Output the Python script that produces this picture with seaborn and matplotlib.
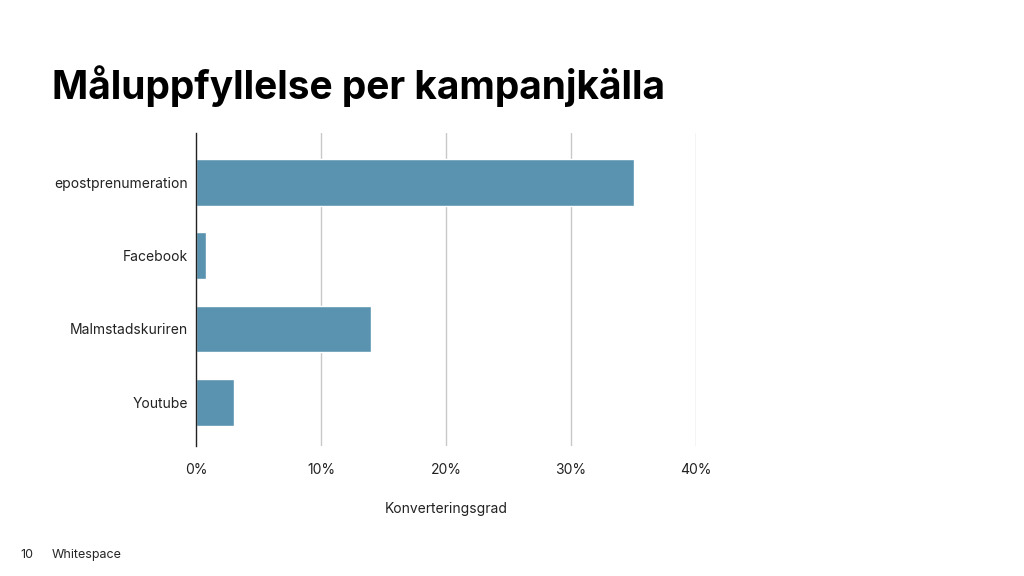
import matplotlib
matplotlib.use("Agg")
import matplotlib.pyplot as plt
import seaborn as sns
import pandas as pd

categories = ["epostprenumeration", "Facebook", "Malmstadskuriren", "Youtube"]
values = [35.0, 0.8, 14.0, 3.0]
xticks = [0, 10, 20, 30, 40]
xticklabels = ["0%", "10%", "20%", "30%", "40%"]

sns.set_theme(style="white")
plt.rcParams['font.family'] = ['Inter', 'DejaVu Sans']

fig = plt.figure(figsize=(10.24, 5.76), dpi=100)
ax = fig.add_axes([196/1024, 1-446/576, 500/1024, 313/576])
df = pd.DataFrame({"cat": categories, "val": values})
sns.barplot(data=df, x="val", y="cat", color="#5A93B0", saturation=1, width=0.64, ax=ax)
ax.set_xlim(0, 40)
ax.set_ylim(3.6, -0.68)
ax.set_xticks(xticks)
ax.set_xticklabels(xticklabels, fontsize=10, color="#222")
ax.tick_params(axis='y', labelsize=10, colors="#222", length=0, pad=6)
ax.tick_params(axis='x', length=0, pad=12)
for x in xticks[1:]:
    ax.axvline(x, color="#c8c8c8", lw=1, zorder=0)
ax.set_axisbelow(True)
for s in ["top", "right", "bottom"]:
    ax.spines[s].set_visible(False)
ax.spines["left"].set_color("#222")
ax.spines["left"].set_linewidth(1)
ax.set_ylabel("")
ax.set_xlabel("Konverteringsgrad", fontsize=10, color="#222", labelpad=18)

fig.text(52/1024, 1-86/576, "Måluppfyllelse per kampanjkälla", fontsize=28, fontweight="bold", va="center", ha="left", color="black")
fig.text(20/1024, 1-555/576, "10", fontsize=9, va="center", ha="left")
fig.text(52/1024, 1-555/576, "Whitespace", fontsize=9, va="center", ha="left")
fig.savefig("out.png", dpi=100)
